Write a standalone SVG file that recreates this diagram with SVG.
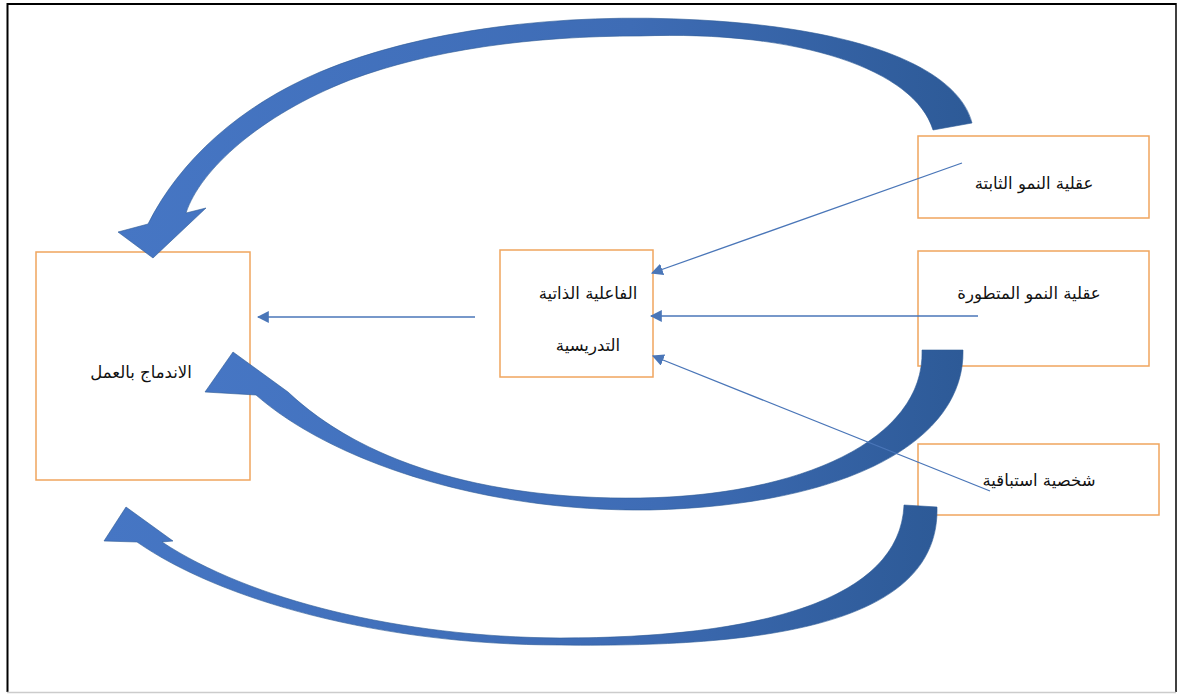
<svg xmlns="http://www.w3.org/2000/svg" width="1183" height="694" viewBox="0 0 1183 694">
<style>
.box{fill:#fff;stroke:#F0A55E;stroke-width:1.5}
.lbl{font-family:"DejaVu Sans","Noto Sans",sans-serif;font-size:16.5px;fill:#111;text-anchor:middle;direction:rtl}
.conn{stroke:#4A76B8;stroke-width:1.3;fill:none}
.big{fill:url(#g);stroke:#2E5A96;stroke-width:0.6}
</style>
<defs>
<linearGradient id="g" x1="0" y1="0" x2="1" y2="0">
<stop offset="0" stop-color="#4676C4"/>
<stop offset="0.6" stop-color="#3E6CB5"/>
<stop offset="1" stop-color="#2D5A97"/>
</linearGradient>
<marker id="ah" viewBox="0 0 10 10" refX="9" refY="5" markerWidth="12" markerHeight="12" markerUnits="userSpaceOnUse" orient="auto">
<path d="M0,0 L10,5 L0,10 Z" fill="#4A76B8"/>
</marker>
</defs>
<rect x="0" y="0" width="1183" height="694" fill="#fff"/>
<g id="frame">
<line x1="7.5" y1="3" x2="7.5" y2="692" stroke="#000" stroke-width="2"/>
<line x1="7" y1="4" x2="1176" y2="4" stroke="#000" stroke-width="2"/>
<line x1="1176" y1="3" x2="1176" y2="692" stroke="#000" stroke-width="1.5"/>
<line x1="7" y1="692.5" x2="1176" y2="692.5" stroke="#ccc" stroke-width="1.5"/>
</g>
<g id="node-integration">
<rect class="box" x="36" y="252" width="214" height="228"/>
<text class="lbl" x="141" y="378">الاندماج بالعمل</text>
</g>
<g id="node-efficacy">
<rect class="box" x="500" y="250" width="153" height="127"/>
<text class="lbl" x="588" y="299">الفاعلية الذاتية</text>
<text class="lbl" x="588" y="351">التدريسية</text>
</g>
<g id="node-fixed">
<rect class="box" x="918" y="136" width="231" height="82"/>
<text class="lbl" x="1034" y="189">عقلية النمو الثابتة</text>
</g>
<g id="node-growth">
<rect class="box" x="918" y="251" width="231" height="115"/>
<text class="lbl" x="1029" y="299">عقلية النمو المتطورة</text>
</g>
<g id="node-proactive">
<rect class="box" x="918" y="444" width="241" height="71"/>
<text class="lbl" x="1039" y="486">شخصية استباقية</text>
</g>
<g id="connectors">
<path class="big" d="M972,123 C960,75 880,30 700,20 C560,12 420,30 320,72 C240,106 180,160 148,224 L118,232 L153,258 L206,208 L186,213 C200,170 260,115 350,80 C430,50 530,36 640,36 C800,30 915,70 933,130 Z"/>
<path class="big" d="M963,350 C965,440 850,505 650,510 C480,512 330,460 256,395 L205,392 L233,352 L288,392 C360,460 480,500 640,498 C800,496 925,440 922,350 Z"/>
<path class="big" d="M937,507 C940,620 780,648 560,645 C380,645 220,600 137,542 L104,541 L126,507 L173,541 L162,542 C250,600 400,637 560,638 C760,638 900,600 904,505 Z"/>
<line class="conn" x1="962" y1="163" x2="652" y2="273" marker-end="url(#ah)"/>
<line class="conn" x1="978" y1="316" x2="651" y2="316" marker-end="url(#ah)"/>
<line class="conn" x1="990" y1="491" x2="653" y2="356" marker-end="url(#ah)"/>
<line class="conn" x1="475" y1="317" x2="258" y2="317" marker-end="url(#ah)"/>
</g>
</svg>
